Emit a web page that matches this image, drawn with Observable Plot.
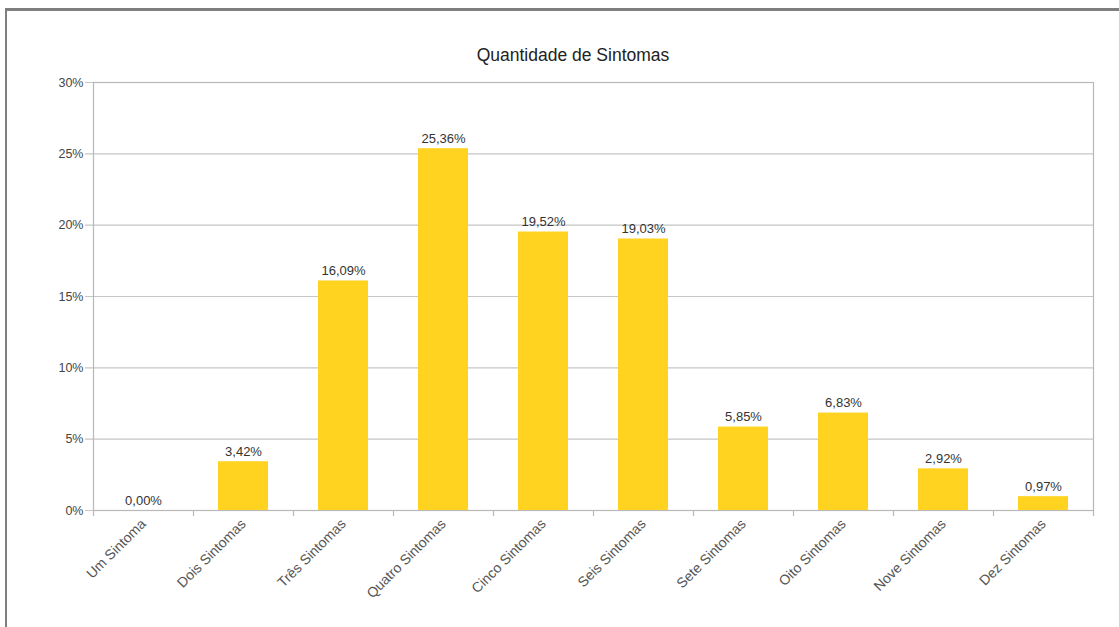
<!DOCTYPE html>
<html>
<head>
<meta charset="utf-8">
<script src="https://cdn.jsdelivr.net/npm/d3@7"></script>
<script src="https://cdn.jsdelivr.net/npm/@observablehq/plot@0.6"></script>
<style>
  html, body { margin: 0; padding: 0; background: #fff; }
  #wrap { position: relative; width: 1119px; height: 627px; overflow: hidden; font-family: "Liberation Sans", Arial, sans-serif; }
  #border { position: absolute; left: 5px; top: 8px; right: -10px; bottom: -10px; border-left: 2px solid #7f7f7f; border-top: 3px solid #7f7f7f; }
  #title { position: absolute; left: 373px; width: 400px; top: 45px; text-align: center; font-size: 17.5px; color: #222; }
  #chart { position: absolute; left: 0; top: 0; }
</style>
</head>
<body>
<div id="wrap">
  <div id="border"></div>
  <div id="chart"></div>
  <div id="title">Quantidade de Sintomas</div>
</div>
<script>
// Share of respondents by number of symptoms (percent)
const categories = ["Um Sintoma", "Dois Sintomas", "Três Sintomas", "Quatro Sintomas", "Cinco Sintomas",
                    "Seis Sintomas", "Sete Sintomas", "Oito Sintomas", "Nove Sintomas", "Dez Sintomas"];
const values = [0.00, 3.42, 16.09, 25.36, 19.52, 19.03, 5.85, 6.83, 2.92, 0.97];
const yTicks = [0, 5, 10, 15, 20, 25, 30];

const data = categories.map((c, i) => ({category: c, value: values[i]}));
const pt = v => d3.format(".2f")(v).replace(".", ",") + "%";
const lastCat = categories[categories.length - 1];

const chart = Plot.plot({
  width: 1119,
  height: 627,
  marginLeft: 93,
  marginRight: 26,
  marginTop: 82,
  marginBottom: 117,
  style: {fontFamily: "Liberation Sans, Arial, sans-serif", background: "transparent"},
  x: {domain: categories, paddingInner: 0.5, paddingOuter: 0.25, label: null},
  y: {domain: [0, 30], label: null},
  marks: [
    // horizontal gridlines, extended slightly left of the axis as tick marks
    Plot.ruleY(yTicks, {stroke: "#c6c6c6", strokeWidth: 1.2, insetLeft: -8}),
    Plot.frame({stroke: "#b8b8b8", strokeWidth: 1.2}),
    // category boundary ticks below the baseline
    Plot.ruleX(categories, {x: d => d, y1: 0, y2: 0, dx: -50, insetBottom: -6, stroke: "#b8b8b8", strokeWidth: 1.2}),
    Plot.ruleX([lastCat], {x: d => d, y1: 0, y2: 0, dx: 50, insetBottom: -6, stroke: "#b8b8b8", strokeWidth: 1.2}),
    Plot.barY(data, {x: "category", y: "value", fill: "#ffd320"}),
    Plot.text(data, {x: "category", y: "value", text: d => pt(d.value), lineAnchor: "bottom", dy: -6,
                     fontSize: 13, fill: "#333"}),
    Plot.axisY({ticks: yTicks, tickFormat: d => d + "%", tickSize: 0, tickPadding: 10, fontSize: 12.5, color: "#444"}),
    Plot.axisX({tickSize: 0, tickRotate: -45, tickPadding: 11, fontSize: 14, color: "#555", label: null})
  ]
});
document.getElementById("chart").appendChild(chart);
</script>
</body>
</html>
